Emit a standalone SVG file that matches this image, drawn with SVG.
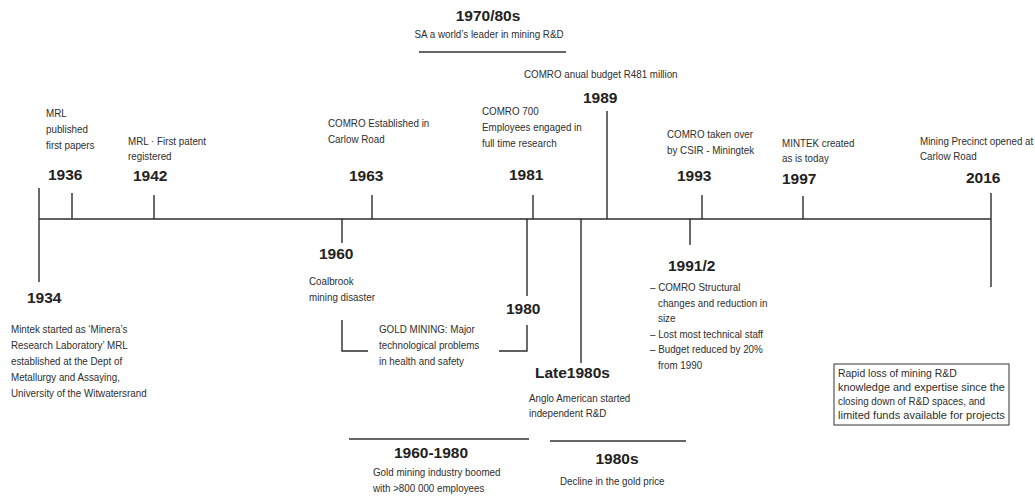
<svg xmlns="http://www.w3.org/2000/svg" width="1035" height="498" viewBox="0 0 1035 498">
<style>
.t{font-family:"Liberation Sans",Arial,Helvetica,sans-serif;font-size:11.4px;fill:#2e2e2e}
.y{font-family:"Liberation Sans",Arial,Helvetica,sans-serif;font-size:15.5px;font-weight:bold;fill:#222}
.ln{stroke:#2b2b2b;stroke-width:1.4;fill:none}
.ul{stroke:#333;stroke-width:1.6;fill:none}
.c{text-anchor:middle}
</style>
<rect width="1035" height="498" fill="#fff"/>
<g id="connectors" class="ln">
<path d="M39 219H991"/>
<path d="M39 188V282"/>
<path d="M72 193V219"/>
<path d="M154 195V219"/>
<path d="M372 195V219"/>
<path d="M342 219V243"/>
<path d="M533 195V219"/>
<path d="M527 219V296"/>
<path d="M581 219V363"/>
<path d="M607 111V219"/>
<path d="M702 195V219"/>
<path d="M690 219V245"/>
<path d="M803 196V219"/>
<path d="M991 193V287"/>
<path d="M342 320V351H368"/>
<path d="M499 351H527V325"/>
</g>
<g id="era-1970-80s">
<text class="y c" x="488" y="21">1970/80s</text>
<text class="t c" transform="translate(489 38) scale(.86 1)">SA a world’s leader in mining R&amp;D</text>
<path class="ul" d="M419 52H566"/>
</g>
<g id="n1934">
<text class="y" x="27" y="303">1934</text>
<text class="t" transform="translate(11 333) scale(.86 1)">Mintek started as ‘Minera’s<tspan x="0" dy="15.9">Research Laboratory’ MRL</tspan><tspan x="0" dy="15.9">established at the Dept of</tspan><tspan x="0" dy="15.9">Metallurgy and Assaying,</tspan><tspan x="0" dy="15.9">University of the Witwatersrand</tspan></text>
</g>
<g id="n1936">
<text class="t" transform="translate(46 117) scale(.86 1)">MRL<tspan x="0" dy="16">published</tspan><tspan x="0" dy="16">first papers</tspan></text>
<text class="y" x="48" y="180">1936</text>
</g>
<g id="n1942">
<text class="t" transform="translate(128 145) scale(.86 1)">MRL · First patent<tspan x="0" dy="15.5">registered</tspan></text>
<text class="y" x="133" y="181">1942</text>
</g>
<g id="n1963">
<text class="t" transform="translate(328 127) scale(.86 1)">COMRO Established in<tspan x="0" dy="16">Carlow Road</tspan></text>
<text class="y" x="349" y="181">1963</text>
</g>
<g id="n1981">
<text class="t" transform="translate(482 115) scale(.86 1)">COMRO 700<tspan x="0" dy="16">Employees engaged in</tspan><tspan x="0" dy="16">full time research</tspan></text>
<text class="y" x="509" y="180">1981</text>
</g>
<g id="n1989">
<text class="t" transform="translate(524 78) scale(.86 1)">COMRO anual budget R481 million</text>
<text class="y" x="583" y="103">1989</text>
</g>
<g id="n1993">
<text class="t" transform="translate(667 138) scale(.86 1)">COMRO taken over<tspan x="0" dy="16">by CSIR - Miningtek</tspan></text>
<text class="y" x="677" y="181">1993</text>
</g>
<g id="n1997">
<text class="t" transform="translate(782 147) scale(.86 1)">MINTEK created<tspan x="0" dy="15.5">as is today</tspan></text>
<text class="y" x="782" y="184">1997</text>
</g>
<g id="n2016">
<text class="t" transform="translate(920 145) scale(.86 1)">Mining Precinct opened at<tspan x="0" dy="15.5">Carlow Road</tspan></text>
<text class="y" x="966" y="183">2016</text>
</g>
<g id="n1960">
<text class="y" x="319" y="259">1960</text>
<text class="t" transform="translate(309 285) scale(.86 1)">Coalbrook<tspan x="0" dy="16">mining disaster</tspan></text>
</g>
<g id="gold-mining">
<text class="t" transform="translate(379 333) scale(.86 1)">GOLD MINING: Major<tspan x="0" dy="16">technological problems</tspan><tspan x="0" dy="16">in health and safety</tspan></text>
</g>
<g id="n1980">
<text class="y" x="506" y="314">1980</text>
</g>
<g id="late1980s">
<text class="y" x="535" y="378">Late1980s</text>
<text class="t" transform="translate(529 402) scale(.86 1)">Anglo American started<tspan x="0" dy="15.5">independent R&amp;D</tspan></text>
</g>
<g id="n1991">
<text class="y" x="668" y="271">1991/2</text>
<text class="t" transform="translate(650 291) scale(.86 1)">– COMRO Structural<tspan x="9.3" dy="15.6">changes and reduction in</tspan><tspan x="9.3" dy="15.6">size</tspan><tspan x="0" dy="15.6">– Lost most technical staff</tspan><tspan x="0" dy="15.6">– Budget reduced by 20%</tspan><tspan x="9.3" dy="15.6">from 1990</tspan></text>
</g>
<g id="note-box">
<rect x="834" y="364" width="175" height="61" fill="#fff" stroke="#333" stroke-width="1"/>
<g transform="translate(838 0) scale(.86 1)">
<text class="t" x="0" y="377" textLength="138" lengthAdjust="spacingAndGlyphs">Rapid loss of mining R&amp;D</text>
<text class="t" x="0" y="391" textLength="194" lengthAdjust="spacingAndGlyphs">knowledge and expertise since the</text>
<text class="t" x="0" y="405" textLength="171" lengthAdjust="spacingAndGlyphs">closing down of R&amp;D spaces, and</text>
<text class="t" x="0" y="419" textLength="194" lengthAdjust="spacingAndGlyphs">limited funds available for projects</text>
</g>
</g>
<g id="era-1960-1980">
<path class="ul" d="M349 439H529"/>
<text class="y c" x="431" y="458">1960-1980</text>
<text class="t" transform="translate(373 476) scale(.86 1)">Gold mining industry boomed<tspan x="0" dy="16">with &gt;800 000 employees</tspan></text>
</g>
<g id="era-1980s">
<path class="ul" d="M550 441H686"/>
<text class="y c" x="617" y="464">1980s</text>
<text class="t" transform="translate(560 485) scale(.86 1)">Decline in the gold price</text>
</g>
</svg>
